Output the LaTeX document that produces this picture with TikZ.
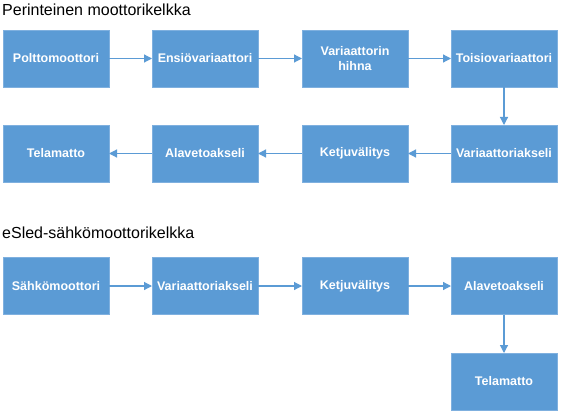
\documentclass[tikz,border=0pt]{standalone}
\usepackage{fontspec}
\setmainfont{Liberation Sans}
\usetikzlibrary{arrows.meta}
\definecolor{boxblue}{HTML}{5B9BD5}
\definecolor{boxedge}{HTML}{7FB0DF}
\tikzset{
  blk/.style={rectangle, fill=boxblue, draw=boxedge, line width=0.8pt,
    minimum width=106pt, minimum height=57pt, inner sep=0pt, outer sep=0pt,
    text=white, align=center, font=\bfseries\fontsize{12.5}{15}\selectfont},
  conn/.style={draw=boxblue, line width=1.2pt, -{Triangle[length=8pt,width=8pt]}},
  ttl/.style={anchor=base west, inner sep=0pt, font=\fontsize{16}{19}\selectfont, text=black}
}
\begin{document}
\begin{tikzpicture}[x=1pt,y=1pt]
\useasboundingbox[fill=white] (0,0) rectangle (562,-417);
\node[ttl] (t1) at (2,-16) {Perinteinen moottorikelkka};
\node[ttl] (t2) at (2,-238) {eSled-sähkömoottorikelkka};
% row 1
\node[blk] (a1) at (56,-58.5) {Polttomoottori};
\node[blk] (a2) at (205,-58.5) {Ensiövariaattori};
\node[blk] (a3) at (355,-58.5) {Variaattorin\\hihna};
\node[blk] (a4) at (504,-58.5) {Toisiovariaattori};
% row 2
\node[blk] (b1) at (56,-153.5) {Telamatto};
\node[blk] (b2) at (205,-153.5) {Alavetoakseli};
\node[blk] (b3) at (355,-153.5) {Ketjuvälitys};
\node[blk] (b4) at (504,-153.5) {Variaattoriakseli};
% row 3
\node[blk] (c1) at (56,-286) {Sähkömoottori};
\node[blk] (c2) at (205,-286) {Variaattoriakseli};
\node[blk] (c3) at (355,-286) {Ketjuvälitys};
\node[blk] (c4) at (504,-286) {Alavetoakseli};
% row 4
\node[blk] (d4) at (504,-381.5) {Telamatto};
\draw[conn] (a1) -- (a2);
\draw[conn] (a2) -- (a3);
\draw[conn] (a3) -- (a4);
\draw[conn] (a4) -- (b4);
\draw[conn] (b4) -- (b3);
\draw[conn] (b3) -- (b2);
\draw[conn] (b2) -- (b1);
\draw[conn] (c1) -- (c2);
\draw[conn] (c2) -- (c3);
\draw[conn] (c3) -- (c4);
\draw[conn] (c4) -- (d4);
\end{tikzpicture}
\end{document}
